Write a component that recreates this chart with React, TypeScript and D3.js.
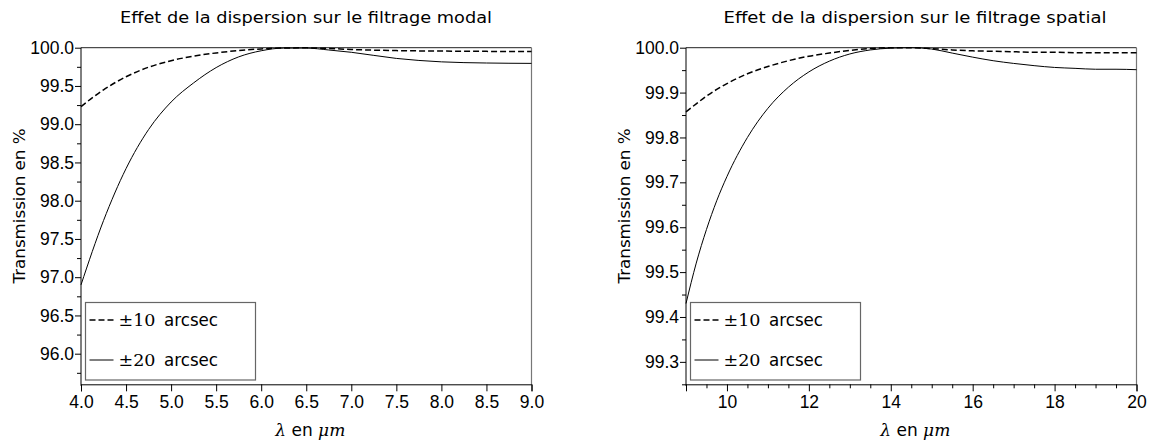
import React, { useEffect, useRef } from "react";
import * as d3 from "d3";

// Effet de la dispersion sur le filtrage modal
const lambdaModal = [4.0, 4.25, 4.5, 4.75, 5.0, 5.25, 5.5, 5.75, 6.0, 6.25, 6.5, 6.75, 7.0, 7.5, 8.0, 8.5, 9.0];
const modal10 = [99.23, 99.45, 99.62, 99.745, 99.83, 99.89, 99.932, 99.963, 99.984, 99.997, 99.998, 99.99, 99.977, 99.962, 99.956, 99.952, 99.95];
const modal20 = [96.9, 97.74, 98.42, 98.93, 99.29, 99.54, 99.74, 99.88, 99.96, 99.995, 99.995, 99.97, 99.94, 99.86, 99.815, 99.8, 99.795];

// Effet de la dispersion sur le filtrage spatial
const lambdaSpatial = [9.0, 9.25, 9.5, 9.75, 10.0, 10.5, 11.0, 11.5, 12.0, 12.5, 13.0, 13.5, 14.0, 14.5, 15.0, 15.5, 16.0, 16.5, 17.0, 17.5, 18.0, 18.5, 19.0, 19.5, 20.0];
const spatial10 = [99.857, 99.875, 99.892, 99.907, 99.92, 99.942, 99.958, 99.971, 99.981, 99.988, 99.994, 99.998, 100.0, 100.0, 99.998, 99.995, 99.993, 99.992, 99.991, 99.99, 99.99, 99.989, 99.989, 99.989, 99.989];
const spatial20 = [99.43, 99.52, 99.595, 99.659, 99.713, 99.8, 99.865, 99.912, 99.946, 99.97, 99.986, 99.995, 99.999, 100.0, 99.997, 99.988, 99.979, 99.971, 99.965, 99.96, 99.956, 99.954, 99.952, 99.952, 99.951];

// ticks
const modalXTicks = [4.0, 4.5, 5.0, 5.5, 6.0, 6.5, 7.0, 7.5, 8.0, 8.5, 9.0];
const modalYTicks = [96.0, 96.5, 97.0, 97.5, 98.0, 98.5, 99.0, 99.5, 100.0];
const modalYMinor = [95.75, 96.25, 96.75, 97.25, 97.75, 98.25, 98.75, 99.25, 99.75];
const spatialXTicks = [10, 12, 14, 16, 18, 20];
const spatialXMinor = [9, 9.5, 10.5, 11, 11.5, 12.5, 13, 13.5, 14.5, 15, 15.5, 16.5, 17, 17.5, 18.5, 19, 19.5];
const spatialYTicks = [99.3, 99.4, 99.5, 99.6, 99.7, 99.8, 99.9, 100.0];
const spatialYMinor = [99.25, 99.35, 99.45, 99.55, 99.65, 99.75, 99.85, 99.95];

const legendLabels = ["10", "20"];

const sans = "'Liberation Sans', Arial, sans-serif";
const cmSans = "'DejaVu Sans', sans-serif";
const serif = "'DejaVu Serif', 'Liberation Serif', serif";

function drawPanel(svg, cfg) {
  const top = 47.7, bottom = 384.3;
  const x = d3.scaleLinear().domain(cfg.xDomain).range([cfg.left, cfg.right]);
  const y = d3.scaleLinear().domain(cfg.yDomain).range([bottom, top]);
  const g = svg.append("g");

  // frame top + right
  g.append("line").attr("x1", cfg.left).attr("x2", cfg.right).attr("y1", top).attr("y2", top)
    .attr("stroke", "#222").attr("stroke-width", 1);
  g.append("line").attr("x1", cfg.right).attr("x2", cfg.right).attr("y1", top).attr("y2", bottom)
    .attr("stroke", "#777").attr("stroke-width", 1.2);

  // Axis setup
  const xAxis = d3.axisBottom(x).tickValues(cfg.xTicks).tickFormat(d3.format(cfg.xFormat)).tickSizeOuter(0).tickSize(7).tickPadding(4);
  const gx = g.append("g").attr("transform", `translate(0,${bottom})`).call(xAxis);
  if (cfg.xMinor) {
    g.append("g").attr("transform", `translate(0,${bottom})`)
      .call(d3.axisBottom(x).tickValues(cfg.xMinor).tickFormat(() => "").tickSizeOuter(0).tickSize(4))
      .select(".domain").remove();
  }
  const yAxis = d3.axisLeft(y).tickValues(cfg.yTicks).tickFormat(d3.format(".1f")).tickSizeOuter(0).tickSize(6).tickPadding(1);
  const gy = g.append("g").attr("transform", `translate(${cfg.left},0)`).call(yAxis);
  g.append("g").attr("transform", `translate(${cfg.left},0)`)
    .call(d3.axisLeft(y).tickValues(cfg.yMinor).tickFormat(() => "").tickSizeOuter(0).tickSize(4))
    .select(".domain").remove();

  g.selectAll(".tick text").attr("font-family", sans).attr("font-size", 17.5).attr("fill", "#000");
  gx.selectAll(".tick text").attr("dy", "0.72em");
  g.selectAll(".domain, .tick line").attr("stroke", "#000").attr("stroke-width", 1);
  gy.select(".domain").attr("d", `M${-0.5},${top}V${bottom + 1.5}`).attr("transform", "translate(0.5,0)");

  // curves
  const line = d3.line().x((d) => x(d[0])).y((d) => y(d[1])).curve(d3.curveMonotoneX);
  g.append("path").attr("d", line(cfg.lambda.map((l, i) => [l, cfg.s20[i]])))
    .attr("fill", "none").attr("stroke", "#000").attr("stroke-width", 1);
  g.append("path").attr("d", line(cfg.lambda.map((l, i) => [l, cfg.s10[i]])))
    .attr("fill", "none").attr("stroke", "#000").attr("stroke-width", 1.5).attr("stroke-dasharray", "6,3");

  // title
  g.append("text").attr("x", cfg.titleX).attr("y", 23).attr("text-anchor", "middle")
    .attr("font-family", cmSans).attr("font-size", 16.5)
    .attr("textLength", cfg.titleLen).attr("lengthAdjust", "spacingAndGlyphs").text(cfg.title);

  // x label
  const xl = g.append("text").attr("x", (cfg.left + cfg.right) / 2 + 4).attr("y", 436).attr("text-anchor", "middle")
    .attr("font-size", 17);
  xl.append("tspan").attr("font-family", serif).attr("font-style", "italic").text("λ");
  xl.append("tspan").attr("font-family", cmSans).text(" en ");
  xl.append("tspan").attr("font-family", serif).attr("font-style", "italic").text("μm");

  // y label
  g.append("text").attr("transform", `translate(${cfg.yLabelX},206) rotate(-90)`).attr("text-anchor", "middle")
    .attr("font-family", cmSans).attr("font-size", 16)
    .attr("textLength", 155).attr("lengthAdjust", "spacingAndGlyphs").text("Transmission en %");

  // legend
  const lx = cfg.left + 4.5;
  const lg = g.append("g");
  lg.append("rect").attr("x", lx).attr("y", 302.5).attr("width", 170).attr("height", 77.5)
    .attr("fill", "#fff").attr("stroke", "#666").attr("stroke-width", 1.2);
  legendLabels.forEach((lab, i) => {
    const yy = 320 + i * 40;
    lg.append("line").attr("x1", lx + 4).attr("x2", lx + 28).attr("y1", yy).attr("y2", yy)
      .attr("stroke", "#000").attr("stroke-width", i === 0 ? 1.3 : 1)
      .attr("stroke-dasharray", i === 0 ? "6,3" : null);
    lg.append("text").attr("x", lx + 33).attr("y", yy + 6).attr("font-size", 17)
      .attr("font-family", serif).attr("textLength", 37).attr("lengthAdjust", "spacingAndGlyphs")
      .text("±" + lab);
    lg.append("text").attr("x", lx + 78.5).attr("y", yy + 6).attr("font-size", 17)
      .attr("font-family", cmSans).attr("textLength", 54).attr("lengthAdjust", "spacingAndGlyphs")
      .text("arcsec");
  });
}

export default function App() {
  const ref = useRef(null);
  useEffect(() => {
    const svg = d3.select(ref.current);
    svg.selectAll("*").remove();
    drawPanel(svg, {
      left: 81, right: 531.5, xDomain: [4, 9], yDomain: [95.6, 100],
      xTicks: modalXTicks, xFormat: ".1f", xMinor: null,
      yTicks: modalYTicks, yMinor: modalYMinor,
      lambda: lambdaModal, s10: modal10, s20: modal20,
      title: "Effet de la dispersion sur le filtrage modal", titleX: 306, titleLen: 372, yLabelX: 25,
    });
    drawPanel(svg, {
      left: 686, right: 1136.5, xDomain: [9, 20], yDomain: [99.25, 100],
      xTicks: spatialXTicks, xFormat: "d", xMinor: spatialXMinor,
      yTicks: spatialYTicks, yMinor: spatialYMinor,
      lambda: lambdaSpatial, s10: spatial10, s20: spatial20,
      title: "Effet de la dispersion sur le filtrage spatial", titleX: 915, titleLen: 383, yLabelX: 630,
    });
  }, []);
  return (
    <svg ref={ref} width={1153} height={441} style={{ position: "absolute", left: 0, top: 0, background: "#fff" }} />
  );
}
